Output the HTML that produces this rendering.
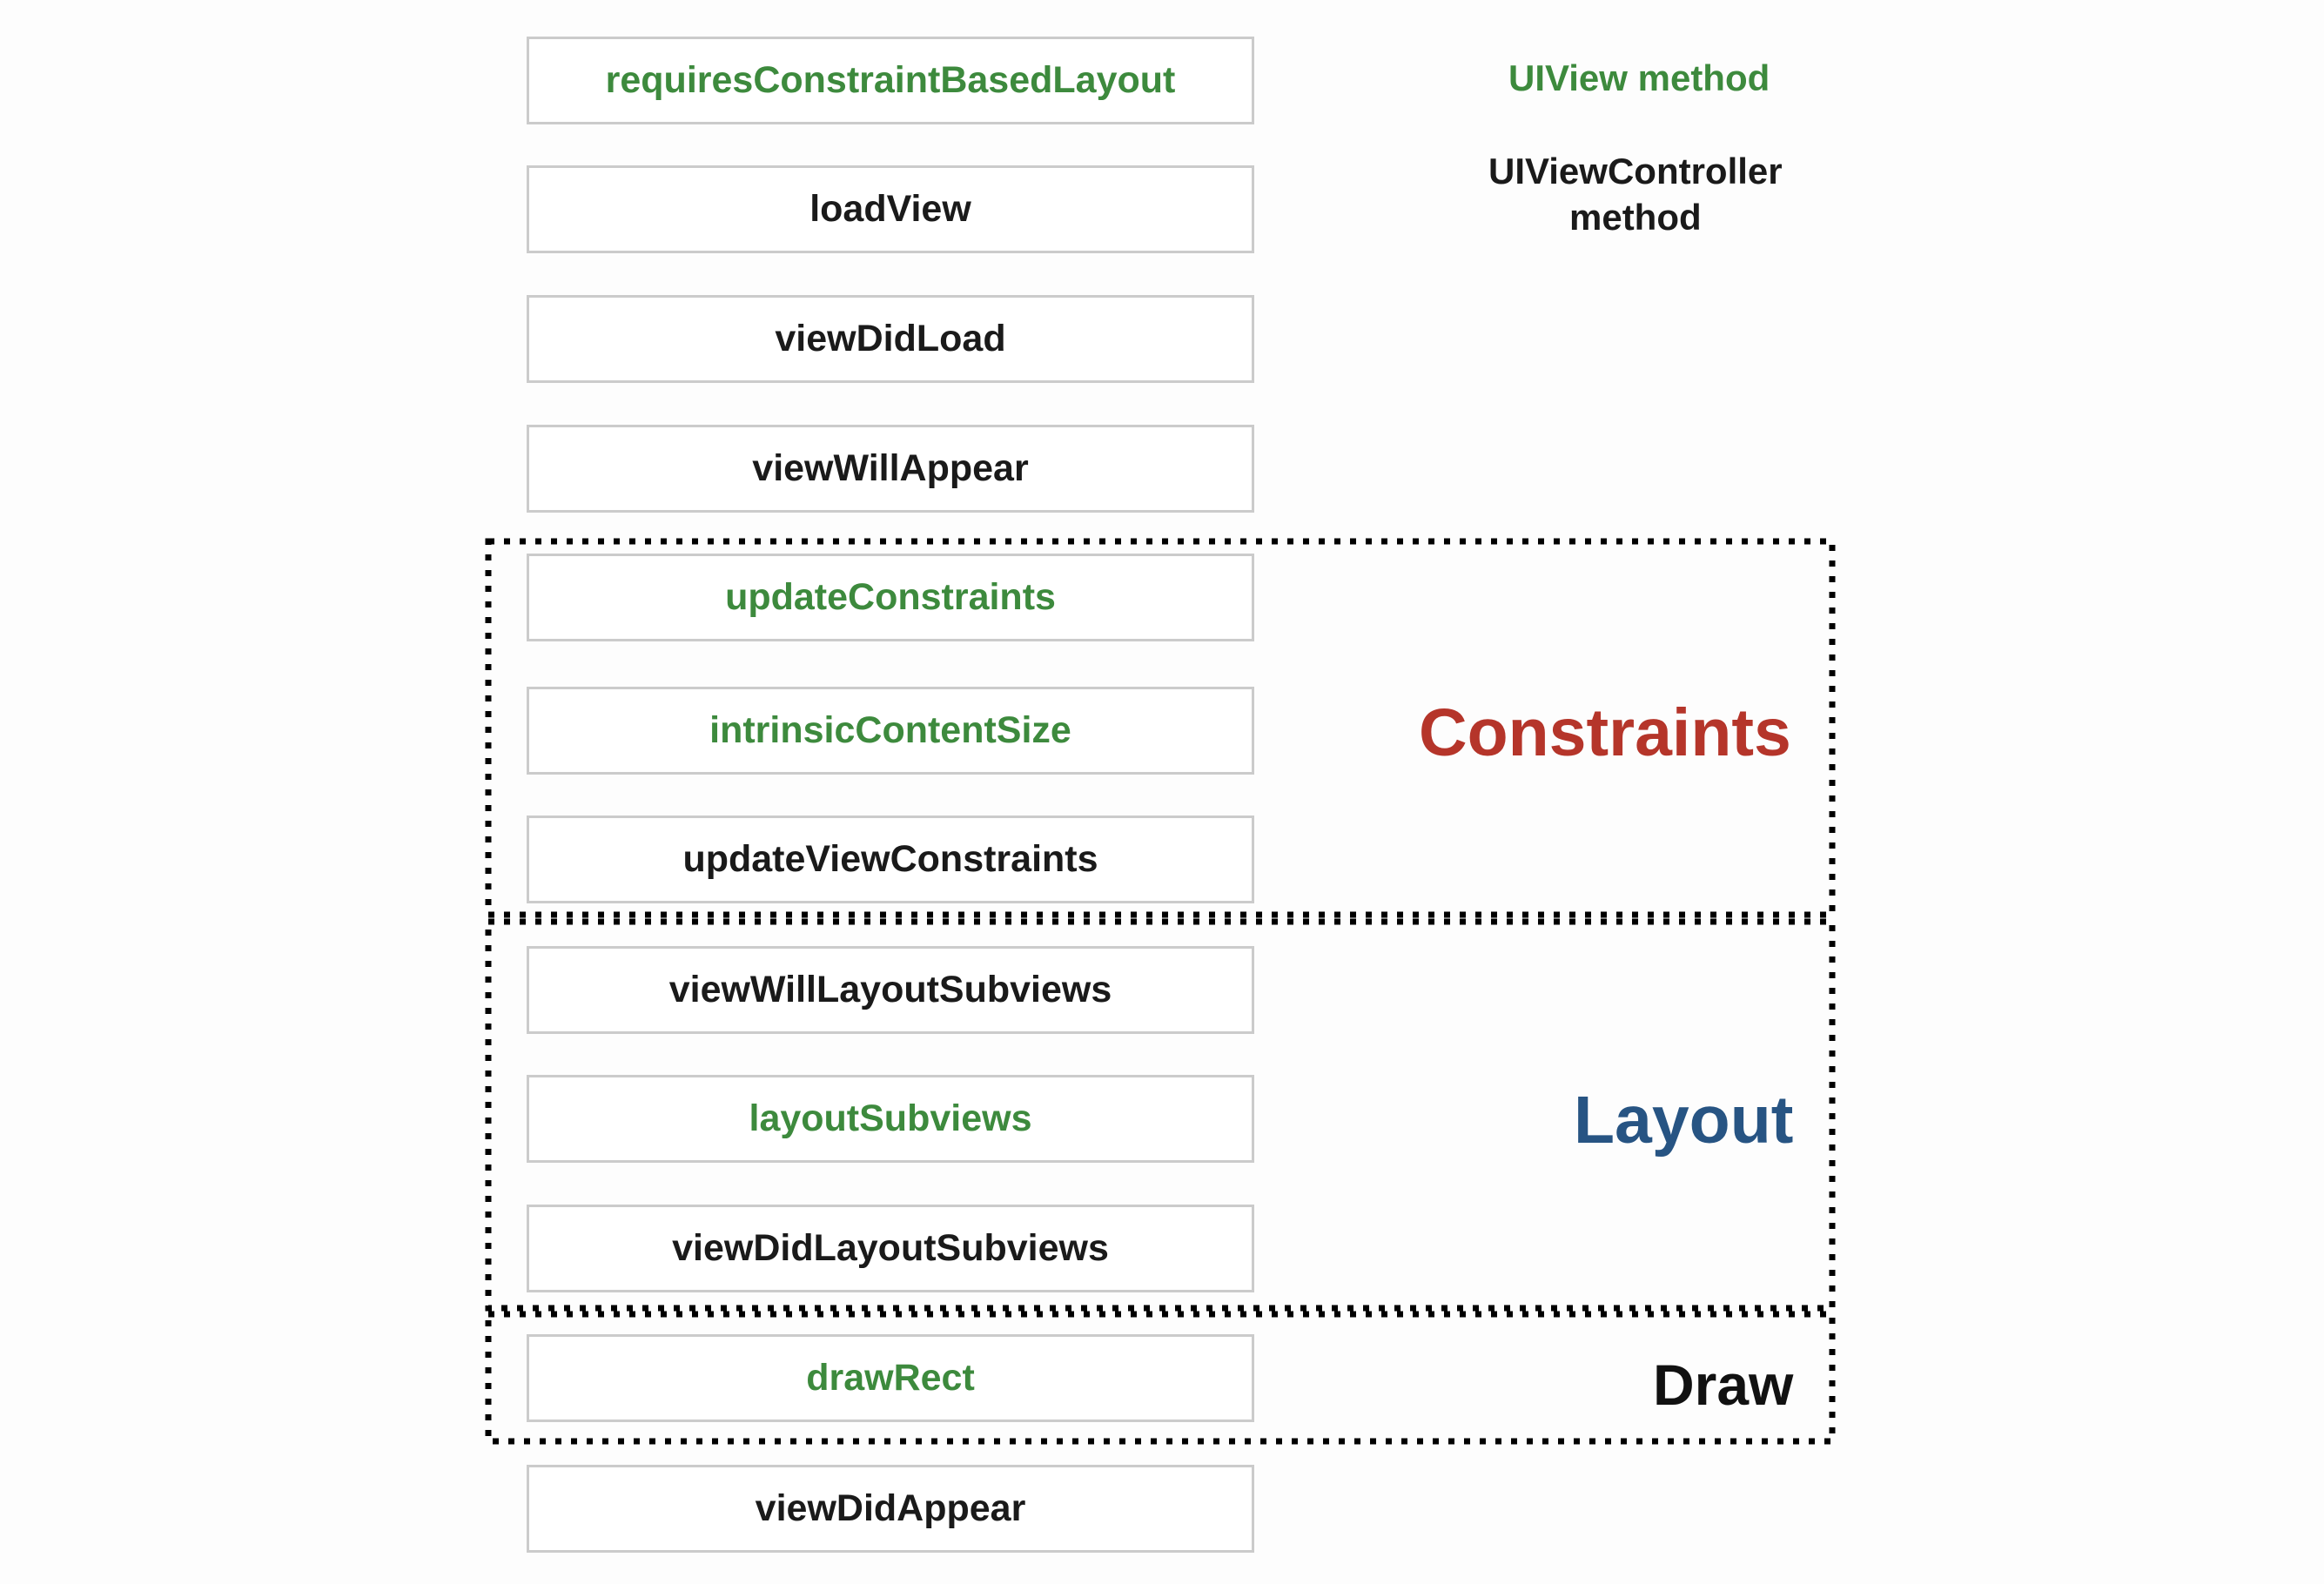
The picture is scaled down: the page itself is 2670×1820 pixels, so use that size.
<!DOCTYPE html>
<html><head><meta charset="utf-8"><style>
html,body{margin:0;padding:0;background:#fdfdfd;}
body{width:2670px;height:1820px;position:relative;overflow:hidden;font-family:"Liberation Sans",Arial,sans-serif;font-weight:bold;}
.b{position:absolute;left:605px;width:836px;height:101px;border:3px solid #cbcbcb;background:#fff;box-sizing:border-box;display:flex;align-items:center;justify-content:center;font-size:43px;color:#1a1a1a;}
.g{color:#3d8a3d;}
.t{position:absolute;white-space:nowrap;}
svg{position:absolute;left:0;top:0;}
</style></head><body>
<svg width="2670" height="1820">
<g fill="none" stroke="#000" stroke-width="7" stroke-dasharray="7 11">
<rect x="561" y="622" width="1544" height="429"/>
<rect x="561" y="1059" width="1544" height="444"/>
<rect x="561" y="1510" width="1544" height="146"/>
</g>
</svg>
<div class="b g" style="top:42px">requiresConstraintBasedLayout</div>
<div class="b" style="top:190px">loadView</div>
<div class="b" style="top:339px">viewDidLoad</div>
<div class="b" style="top:488px">viewWillAppear</div>
<div class="b g" style="top:636px">updateConstraints</div>
<div class="b g" style="top:789px">intrinsicContentSize</div>
<div class="b" style="top:937px">updateViewConstraints</div>
<div class="b" style="top:1087px">viewWillLayoutSubviews</div>
<div class="b g" style="top:1235px">layoutSubviews</div>
<div class="b" style="top:1384px">viewDidLayoutSubviews</div>
<div class="b g" style="top:1533px">drawRect</div>
<div class="b" style="top:1683px">viewDidAppear</div>
<div class="t" style="left:1733px;top:66px;font-size:42px;color:#3d8a3d;">UIView method</div>
<div class="t" style="left:1710px;top:170px;font-size:42px;color:#1a1a1a;text-align:center;line-height:53px;">UIViewController<br>method</div>
<div class="t" style="left:1630px;top:798px;font-size:77px;color:#b5352a;">Constraints</div>
<div class="t" style="left:1808px;top:1243px;font-size:77px;color:#275483;">Layout</div>
<div class="t" style="left:1899px;top:1553px;font-size:66px;color:#111;">Draw</div>
</body></html>
